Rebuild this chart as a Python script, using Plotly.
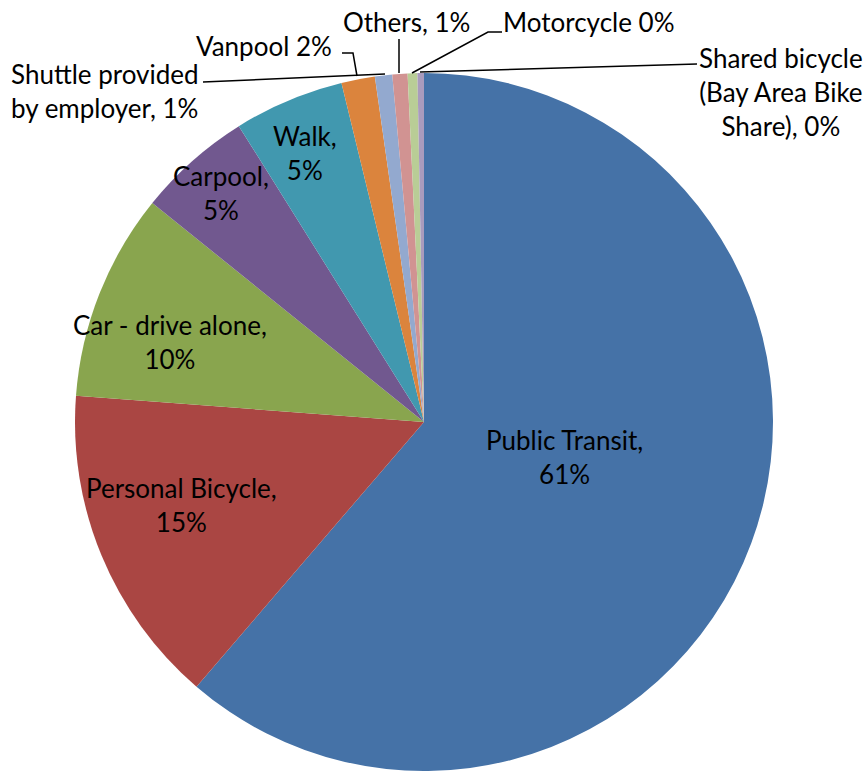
import plotly.graph_objects as go

W, H = 865, 771

categories = ["Public Transit", "Personal Bicycle", "Car - drive alone", "Carpool", "Walk",
              "Vanpool", "Shuttle provided by employer", "Others", "Motorcycle",
              "Shared bicycle (Bay Area Bike Share)"]
values = [61.3, 14.9, 9.6, 5.3, 5.1, 1.55, 0.8, 0.7, 0.45, 0.3]
label_texts = ["Public Transit,<br>61%", "Personal Bicycle,<br>15%", "Car - drive alone,<br>10%",
               "Carpool,<br>5%", "Walk,<br>5%", "Vanpool 2%", "Shuttle provided<br>by employer, 1%",
               "Others, 1%", "Motorcycle 0%", "Shared bicycle<br>(Bay Area Bike<br>Share), 0%"]
colors = ["#4572A7", "#AA4643", "#89A54E", "#71588F", "#4198AF",
          "#DB843D", "#93A9CF", "#D19392", "#B9CD96", "#A99BBD"]

def px(x):
    return x / W

def py(y):
    return 1 - y / H

cx, cy, r = 424, 422, 349

fig = go.Figure(go.Pie(
    labels=categories, values=values, sort=False, direction="clockwise", rotation=0,
    marker=dict(colors=colors, line=dict(width=0)), textinfo="none", hoverinfo="label+percent",
    domain=dict(x=[px(cx - r), px(cx + r)], y=[max(0, py(cy + r)), py(cy - r)]),
    showlegend=False,
))

# label positions (pixel centres) and alignment
label_pos = [(564, 457, "center"), (181, 505, "center"), (170, 342, "center"),
             (221, 193, "center"), (305, 153, "center"), (264, 46, "center"),
             (9, 91, "left"), (406, 22, "center"), (588, 22, "center"),
             (781, 92, "center")]

annotations = []
for txt, (x, y, al) in zip(label_texts, label_pos):
    annotations.append(dict(
        text=txt, x=px(x), y=py(y), xref="paper", yref="paper",
        xanchor="left" if al == "left" else "center", yanchor="middle",
        align=al, showarrow=False,
        font=dict(family="Lato, Open Sans, sans-serif", size=26, color="#000000"),
    ))

leaders = [
    [(342, 53), (353, 53), (357, 76)],
    [(203, 82), (385, 74)],
    [(399, 39), (399, 73)],
    [(502, 32), (488, 32), (412, 73)],
    [(697, 64), (420, 72)],
]
shapes = []
for pts in leaders:
    path = "M " + " L ".join(f"{px(x)},{py(y)}" for x, y in pts)
    shapes.append(dict(type="path", path=path, xref="paper", yref="paper",
                       line=dict(color="black", width=1.5)))

fig.update_layout(
    width=W, height=H, margin=dict(l=0, r=0, t=0, b=0),
    paper_bgcolor="white", plot_bgcolor="white",
    annotations=annotations, shapes=shapes,
)

fig.write_html("out.html", config={"displayModeBar": False},
               post_script="document.body.style.margin='0px';document.body.style.overflow='hidden';")
